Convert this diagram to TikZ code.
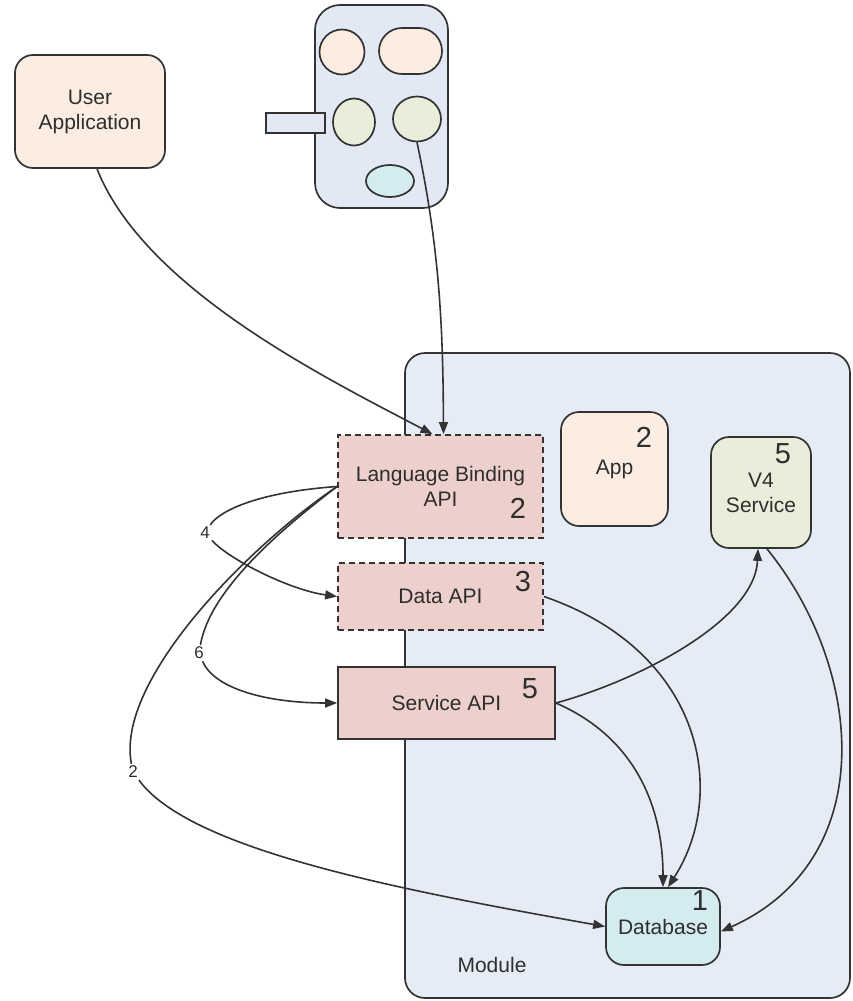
\documentclass[tikz,border=0pt]{standalone}
\usepackage{fontspec}
\setmainfont{Liberation Sans}
\usetikzlibrary{arrows.meta, shapes.geometric}
\definecolor{modfill}{HTML}{E6ECF6}
\definecolor{devfill}{HTML}{E3E9F4}
\definecolor{peach}{HTML}{FCEDE3}
\definecolor{apifill}{HTML}{EDCFCB}
\definecolor{sage}{HTML}{E9EEDA}
\definecolor{aqua}{HTML}{D4EBEF}
\definecolor{edgegray}{HTML}{333333}
\definecolor{txtgray}{HTML}{2E2E2E}
\begin{document}
\begin{tikzpicture}[x=1pt, y=-1pt,
        every node/.style={text=txtgray, font=\fontsize{21}{25}\selectfont},
        box/.style={draw=edgegray, line width=1.7, align=center, inner sep=0},
        apibox/.style={box, fill=apifill},
        roundbox/.style={box, rounded corners=18},
        blob/.style={draw=edgegray, line width=1.7, inner sep=0},
        num/.style={font=\fontsize{29}{30}\selectfont, inner sep=0},
        tag/.style={font=\fontsize{17}{18}\selectfont, inner sep=2},
        link/.style={draw=edgegray, line width=1.6, -{Triangle[length=12, width=9]}}]
    \useasboundingbox (0, 0) rectangle (852, 1001);
    \draw[draw=edgegray, line width=1.7, fill=modfill, rounded corners=20] (405, 353) rectangle (850, 998);
    \node (modlabel) at (492, 965) {Module};
    \node[roundbox, fill=peach, minimum width=150, minimum height=113] (userapp) at (90, 111.5) {User\\Application};
    \draw[draw=edgegray, line width=1.7, fill=devfill, rounded corners=25] (315, 5) rectangle (448, 208);
    \node[blob, fill=devfill, minimum width=59, minimum height=20] (plug) at (295.5, 123) {};
    \node[blob, ellipse, fill=peach, minimum width=45, minimum height=45] (devtl) at (342, 52) {};
    \node[blob, fill=peach, rounded corners=23, minimum width=63, minimum height=46] (devtr) at (410.5, 51) {};
    \node[blob, ellipse, fill=sage, minimum width=42, minimum height=47] (devml) at (354, 122) {};
    \node[blob, ellipse, fill=sage, minimum width=48, minimum height=45] (devr) at (417, 119) {};
    \node[blob, ellipse, fill=aqua, minimum width=48, minimum height=32] (devb) at (390, 181) {};
    \node[apibox, dash pattern=on 6 off 4, minimum width=205, minimum height=103] (lb) at (440.5, 486.5) {Language Binding\\API};
    \node[apibox, dash pattern=on 6 off 4, minimum width=205, minimum height=67] (data) at (440.5, 596.5) {Data API};
    \node[apibox, minimum width=217, minimum height=72] (svc) at (446.5, 703) {Service API};
    \node[roundbox, fill=peach, minimum width=107, minimum height=114] (app) at (614.5, 469) {App};
    \node[roundbox, fill=sage, minimum width=100, minimum height=111] (v4) at (761, 492.5) {V4\\Service};
    \node[roundbox, fill=aqua, minimum width=114, minimum height=77] (db) at (663, 926.5) {Database};
    \foreach \name/\pos/\n in {lbnum/{(518, 508)}/2, datanum/{(523, 582)}/3, svcnum/{(530, 689)}/5,
            appnum/{(644, 437)}/2, vnum/{(783, 454)}/5, dbnum/{(700, 901)}/1} {
            \node[num] (\name) at \pos {\n};
        }
    \node[tag] (l4) at (205, 533) {4};
    \node[tag] (l6) at (199, 653) {6};
    \node[tag] (l2) at (133, 772) {2};
    \draw[link] ([shift={(7, 0)}]userapp.south) .. controls (145, 290) and (330, 380) .. ([shift={(-8, 0)}]lb.north);
    \draw[link] (devr.south) .. controls (440, 250) and (443, 330) .. ([shift={(3, 0)}]lb.north);
    \draw[link] (lb.west) .. controls (260, 492) and (220, 510) .. (l4) .. controls (230, 560) and (290, 590) .. (data.west);
    \draw[link] (lb.west) .. controls (280, 530) and (210, 590) .. (l6) .. controls (215, 690) and (270, 703) .. (svc.west);
    \draw[link] (lb.west) .. controls (250, 545) and (115, 680) .. (l2) .. controls (190, 850) and (400, 890) .. (db.west);
    \draw[link] (data.east) .. controls (700, 650) and (730, 790) .. ([shift={(5, 0)}]db.north);
    \draw[link] (svc.east) .. controls (630, 735) and (663, 800) .. (db.north);
    \draw[link] (svc.east) .. controls (640, 680) and (755, 620) .. ([shift={(-3, 0)}]v4.south);
    \draw[link] ([shift={(6, 0)}]v4.south) .. controls (865, 670) and (880, 860) .. ([shift={(0, 5)}]db.east);
\end{tikzpicture}
\end{document}
